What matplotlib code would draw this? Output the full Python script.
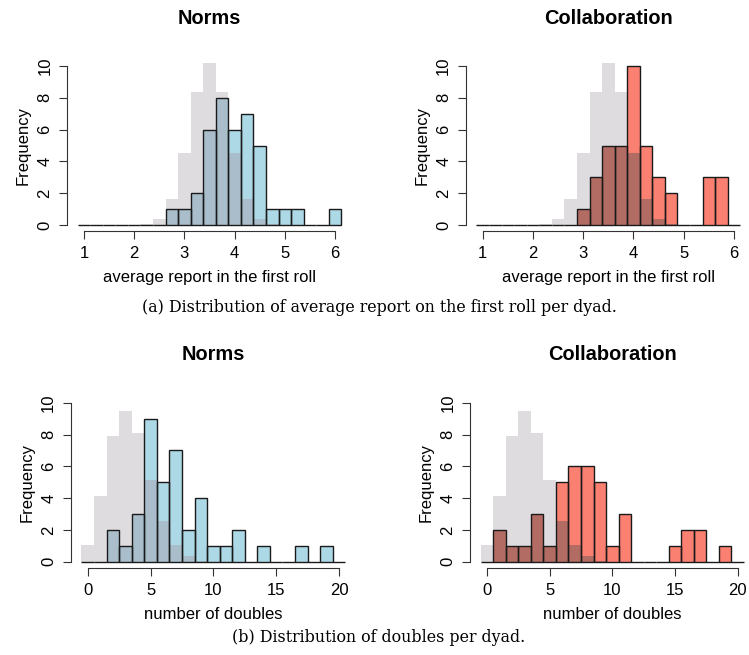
import numpy as np
import matplotlib
matplotlib.use("Agg")
import matplotlib.pyplot as plt

plt.rcParams['font.family'] = ['Liberation Sans', 'DejaVu Sans']

# bin centres
first_roll_bins = np.arange(1.0, 6.01, 0.25)   # width 0.25
doubles_bins = np.arange(0, 21)                # width 1

# observed counts per dyad (40 dyads each)
norms_first = [0, 0, 0, 0, 0, 0, 0, 1, 1, 2, 6, 8, 6, 7, 5, 1, 1, 1, 0, 0, 1]
collab_first = [0, 0, 0, 0, 0, 0, 0, 0, 1, 3, 5, 5, 10, 5, 3, 2, 0, 0, 3, 3, 0]
# expected under honest reporting (grey)
expected_first = [0, 0, 0, 0, 0.01, 0.08, 0.36, 1.64, 4.54, 8.34, 10.19, 8.34,
                  4.54, 1.64, 0.36, 0.08, 0.01, 0, 0, 0, 0]

norms_doubles = [0, 0, 2, 1, 3, 9, 5, 7, 2, 4, 1, 1, 2, 0, 1, 0, 0, 1, 0, 1, 0]
collab_doubles = [0, 2, 1, 1, 3, 1, 5, 6, 6, 5, 1, 3, 0, 0, 0, 1, 2, 2, 0, 1, 0]
expected_doubles = [1.04, 4.17, 7.93, 9.51, 8.08, 5.17, 2.58, 1.03, 0.34, 0.08,
                    0.02, 0, 0, 0, 0, 0, 0, 0, 0, 0, 0]

GREY = '#dedcde'
BLUE, BLUE_OVER = '#add8e6', '#a9bdca'
RED, RED_OVER = '#fa8072', '#b26c63'

W, H = 749, 655
fig = plt.figure(figsize=(W / 100, H / 100), dpi=100)


def px_axes(left, right, top, bottom):
    return fig.add_axes([left / W, 1 - bottom / H, (right - left) / W, (bottom - top) / H])


def fig_text(x, y, s, **kw):
    fig.text(x / W, 1 - y / H, s, ha='center', va='center', **kw)


def hist_panel(ax, centers, width, observed, expected, col, col_over, xlim, xticks):
    observed = np.array(observed, dtype=float)
    expected = np.array(expected, dtype=float)
    ax.bar(centers, expected, width, color=GREY, linewidth=0, zorder=1)
    ax.bar(centers, observed, width, color=col, linewidth=0, zorder=2)
    ax.bar(centers, np.minimum(observed, expected), width, color=col_over, linewidth=0, zorder=3)
    ax.bar(centers, observed, width, fill=False, edgecolor='#1a1a1a', linewidth=1.0, zorder=4)
    ax.set_xlim(*xlim)
    ax.set_ylim(-0.4, 10.4)
    ax.set_xticks(xticks)
    ax.set_yticks([0, 2, 4, 6, 8, 10])
    for s in ['top', 'right']:
        ax.spines[s].set_visible(False)
    for s in ['left', 'bottom']:
        ax.spines[s].set_color('#333333')
        ax.spines[s].set_linewidth(0.8)
    ax.spines['left'].set_bounds(0, 10)
    ax.spines['bottom'].set_bounds(xticks[0], xticks[-1])
    ax.tick_params(length=5.8, width=0.8, color='#333333', labelsize=12)
    ax.tick_params(axis='x', pad=4.7)
    ax.tick_params(axis='y', pad=4.8, labelrotation=90)
    for lab in ax.get_yticklabels():
        lab.set_va('center')
    ax.patch.set_visible(False)


top, bottom = 59.6, 231.4
dy = 336.8

panels = [
    # left, right, y offset, bins, width, observed, expected, colours, xlim, xticks, xlabel
    (67.2, 351.8, 0, first_roll_bins, 0.25, norms_first, expected_first, BLUE, BLUE_OVER,
     (0.665, 6.335), [1, 2, 3, 4, 5, 6], 'average report in the first roll', 'Norms'),
    (465.9, 750.8, 0, first_roll_bins, 0.25, collab_first, expected_first, RED, RED_OVER,
     (0.665, 6.335), [1, 2, 3, 4, 5, 6], 'average report in the first roll', 'Collaboration'),
    (70.9, 355.8, dy, doubles_bins, 1, norms_doubles, expected_doubles, BLUE, BLUE_OVER,
     (-1.34, 21.34), [0, 5, 10, 15, 20], 'number of doubles', 'Norms'),
    (470.2, 754.5, dy, doubles_bins, 1, collab_doubles, expected_doubles, RED, RED_OVER,
     (-1.34, 21.34), [0, 5, 10, 15, 20], 'number of doubles', 'Collaboration'),
]

for (l, r, yoff, bins, w, obs, exp, col, col_over, xlim, xticks, xlab, title) in panels:
    ax = px_axes(l, r, top + yoff, bottom + yoff)
    hist_panel(ax, bins, w, obs, exp, col, col_over, xlim, xticks)
    cx = (l + r) / 2
    fig_text(cx, 18 + yoff, title, fontsize=14.4, fontweight='bold')
    fig_text(cx, 277.5 + yoff, xlab, fontsize=12)
    fig_text(l - 44.2, 145.5 + yoff, 'Frequency', fontsize=12, rotation=90)

fig_text(379, 307, '(a) Distribution of average report on the first roll per dyad.',
         fontsize=11.4, family='DejaVu Serif')
fig_text(379, 638, '(b) Distribution of doubles per dyad.',
         fontsize=11.4, family='DejaVu Serif')

fig.savefig('out.png', dpi=100)
